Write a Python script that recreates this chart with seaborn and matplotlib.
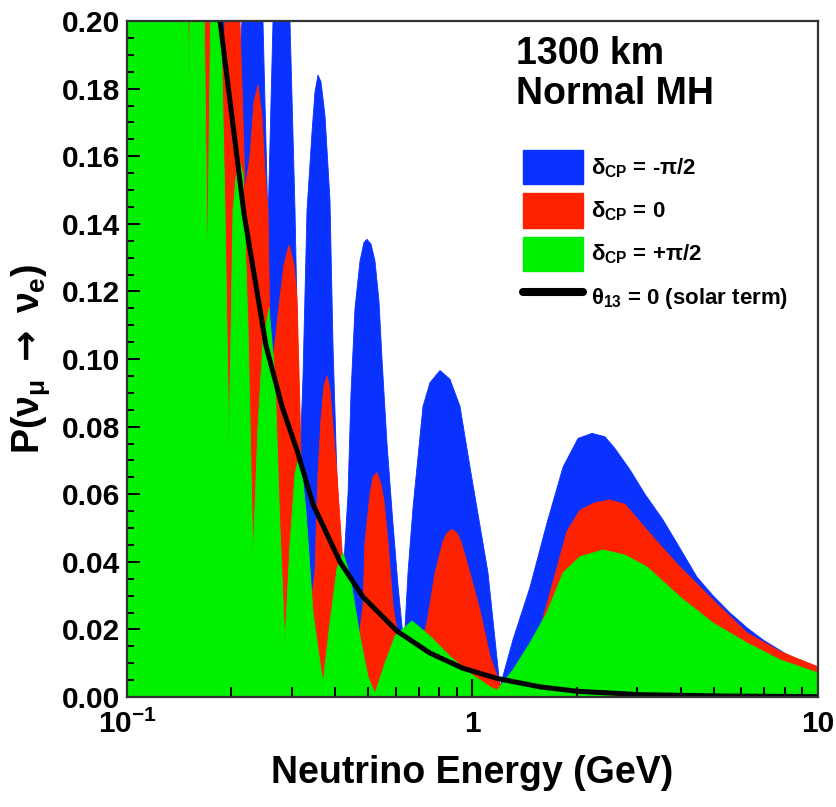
import matplotlib
matplotlib.use("Agg")
import matplotlib.pyplot as plt
import numpy as np
import pandas as pd
import seaborn as sns
from matplotlib.patches import Patch
from matplotlib.lines import Line2D
from matplotlib.ticker import FixedLocator, FixedFormatter, MultipleLocator, NullFormatter

# ---------------- data ----------------
# delta_CP = -pi/2 (blue)
energy_blue = [0.100, 0.1166, 0.1332, 0.1472, 0.1627, 0.1762, 0.1934, 0.2068, 0.2152, 0.2300,
               0.2475, 0.2559, 0.2646, 0.2809, 0.2963, 0.3064, 0.3168, 0.3232, 0.3319, 0.3431,
               0.3500, 0.3571, 0.3643, 0.3742, 0.3868, 0.3947, 0.4080, 0.4219, 0.4362, 0.4450,
               0.4570, 0.4725, 0.4852, 0.4950, 0.5084, 0.5221, 0.5363, 0.5471, 0.5656, 0.5848,
               0.6086, 0.6335, 0.6506, 0.6727, 0.7190, 0.7533, 0.8052, 0.8607, 0.9200, 0.9835,
               1.030, 1.109, 1.162, 1.201, 1.310, 1.467, 1.643, 1.828, 2.020, 2.218,
               2.418, 2.585, 2.857, 3.157, 3.560, 3.986, 4.464, 4.967, 5.563, 6.231,
               6.933, 8.296, 10.0]
prob_blue = [0.30, 0.30, 0.35, 0.25, 0.30, 0.20, 0.35, 0.17, 0.20, 0.27,
             0.20, 0.14, 0.20, 0.235, 0.20, 0.144, 0.070, 0.095, 0.144, 0.167,
             0.179, 0.184, 0.182, 0.172, 0.147, 0.104, 0.055, 0.035, 0.060, 0.090,
             0.115, 0.129, 0.1345, 0.1354, 0.134, 0.129, 0.117, 0.100, 0.075, 0.055,
             0.033, 0.015, 0.0367, 0.056, 0.086, 0.093, 0.0966, 0.094, 0.086, 0.068,
             0.056, 0.0367, 0.017, 0.003, 0.017, 0.0325, 0.0515, 0.068, 0.0765, 0.078,
             0.077, 0.0735, 0.0672, 0.060, 0.0524, 0.044, 0.0355, 0.030, 0.0249, 0.0205,
             0.0169, 0.012, 0.0089]

# delta_CP = 0 (red)
energy_red = [0.100, 0.1166, 0.1288, 0.1377, 0.1482, 0.1512, 0.1552, 0.1616, 0.1716, 0.1786,
              0.1859, 0.1922, 0.2013, 0.2124, 0.2196, 0.2270, 0.2331, 0.2394, 0.2458, 0.2509,
              0.2559, 0.2611, 0.2646, 0.2772, 0.2848, 0.2944, 0.3043, 0.3105, 0.3168, 0.3232,
              0.3341, 0.3500, 0.3571, 0.3643, 0.3717, 0.3792, 0.3868, 0.3947, 0.4053, 0.4275,
              0.4479, 0.4725, 0.4820, 0.4885, 0.5050, 0.5153, 0.5291, 0.5434, 0.5544, 0.5694,
              0.5887, 0.6377, 0.7047, 0.7384, 0.7788, 0.8215, 0.8437, 0.8723, 0.9020, 0.9261,
              0.9835, 1.051, 1.124, 1.242, 1.372, 1.568, 1.710, 1.877, 2.047, 2.263,
              2.500, 2.763, 3.199, 3.560, 3.986, 4.967, 6.231, 7.763, 10.0]
prob_red = [0.30, 0.40, 0.25, 0.34, 0.26, 0.22, 0.24, 0.17, 0.30, 0.22,
            0.17, 0.20, 0.27, 0.20, 0.15, 0.16, 0.176, 0.181, 0.172, 0.155,
            0.144, 0.090, 0.100, 0.118, 0.128, 0.1337, 0.128, 0.118, 0.085, 0.040,
            0.020, 0.037, 0.066, 0.082, 0.092, 0.095, 0.091, 0.080, 0.066, 0.030,
            0.012, 0.020, 0.027, 0.046, 0.060, 0.065, 0.0664, 0.063, 0.058, 0.046,
            0.027, 0.005, 0.015, 0.022, 0.0367, 0.046, 0.0485, 0.0496, 0.0485, 0.046,
            0.0367, 0.0257, 0.012, 0.000, 0.008, 0.020, 0.034, 0.049, 0.0553, 0.0575,
            0.0583, 0.057, 0.0494, 0.044, 0.0385, 0.0287, 0.019, 0.0135, 0.0089]

# delta_CP = +pi/2 (green)
energy_green = [0.100, 0.109, 0.1166, 0.1246, 0.1332, 0.1405, 0.1482, 0.1512, 0.1542, 0.1605,
                0.1671, 0.1710, 0.1750, 0.1810, 0.1871, 0.1922, 0.1974, 0.2027, 0.2095, 0.2166,
                0.2240, 0.2316, 0.2394, 0.2475, 0.2576, 0.2681, 0.2772, 0.2866, 0.2963, 0.3064,
                0.3168, 0.3297, 0.3454, 0.3692, 0.3868, 0.4053, 0.4219, 0.4420, 0.4725, 0.4983,
                0.5221, 0.5581, 0.5966, 0.6682, 0.7533, 0.8607, 0.9835, 1.124, 1.177, 1.310,
                1.467, 1.643, 1.828, 2.047, 2.386, 2.763, 3.199, 3.986, 4.967, 6.231,
                7.763, 10.0]
prob_green = [0.30, 0.34, 0.26, 0.36, 0.24, 0.32, 0.24, 0.182, 0.24, 0.28,
              0.21, 0.125, 0.21, 0.235, 0.20, 0.144, 0.074, 0.144, 0.160, 0.155,
              0.110, 0.041, 0.080, 0.105, 0.115, 0.095, 0.050, 0.016, 0.045, 0.066,
              0.0726, 0.055, 0.025, 0.004, 0.022, 0.038, 0.0427, 0.036, 0.018, 0.006,
              0.001, 0.010, 0.018, 0.0225, 0.018, 0.012, 0.007, 0.003, 0.002, 0.008,
              0.016, 0.025, 0.0367, 0.0415, 0.0435, 0.042, 0.0385, 0.0296, 0.0219, 0.016,
              0.011, 0.0071]

# theta13 = 0 (solar term, black)
energy_solar = [0.1739, 0.1859, 0.2181, 0.2525, 0.2809, 0.3105, 0.3454, 0.4135, 0.4820, 0.6046,
                0.7533, 0.9385, 1.177, 1.568, 2.007, 3.054, 5.204, 10.0]
prob_solar = [0.229, 0.200, 0.143, 0.104, 0.086, 0.073, 0.057, 0.040, 0.0296, 0.0195,
              0.0130, 0.0085, 0.0055, 0.0030, 0.0017, 0.0007, 0.0003, 0.0001]

series_labels = [r"$\delta_{CP}$ = -$\pi$/2", r"$\delta_{CP}$ = 0", r"$\delta_{CP}$ = +$\pi$/2",
                 r"$\theta_{13}$ = 0 (solar term)"]
annotation_lines = ["1300 km", "Normal MH"]
x_tick_values = [0.1, 1, 10]
x_tick_labels = [r"$10^{-1}$", "1", "10"]
y_tick_values = [0.00, 0.02, 0.04, 0.06, 0.08, 0.10, 0.12, 0.14, 0.16, 0.18, 0.20]

BLUE = "#0a32ff"
RED = "#ff2200"
GREEN = "#00f000"

# ---------------- style ----------------
sns.set_theme(style="white")
plt.rcParams["font.family"] = ["Liberation Sans", "DejaVu Sans"]
plt.rcParams["font.weight"] = "bold"
plt.rcParams["mathtext.fontset"] = "custom"
plt.rcParams["mathtext.rm"] = "Liberation Sans:bold"
plt.rcParams["mathtext.it"] = "Liberation Sans:bold"
plt.rcParams["mathtext.bf"] = "Liberation Sans:bold"
plt.rcParams["mathtext.sf"] = "DejaVu Sans"
plt.rcParams["axes.axisbelow"] = False
for key in ["text.color", "axes.labelcolor", "xtick.color", "ytick.color"]:
    plt.rcParams[key] = "black"

fig = plt.figure(figsize=(8.37, 8.07), dpi=100)
ax = fig.add_axes([127 / 837, 1 - 697 / 807, 691 / 837, 676 / 807])
ax.set_xscale("log")
ax.set_axisbelow(False)

for e, p, c in [(energy_blue, prob_blue, BLUE), (energy_red, prob_red, RED),
                (energy_green, prob_green, GREEN)]:
    ax.fill_between(e, 0, p, color=c, lw=0.6, edgecolor=c, zorder=1)

solar_df = pd.DataFrame({"energy": energy_solar, "prob": prob_solar})
sns.lineplot(data=solar_df, x="energy", y="prob", color="black", lw=3.6, ax=ax,
             legend=False, zorder=2)

ax.set_xlim(0.1, 10)
ax.set_ylim(0, 0.2)

ax.xaxis.set_major_locator(FixedLocator(x_tick_values))
ax.xaxis.set_major_formatter(FixedFormatter(x_tick_labels))
minor_x = [m * d for d in (0.1, 1) for m in range(2, 10)]
ax.xaxis.set_minor_locator(FixedLocator(minor_x))
ax.xaxis.set_minor_formatter(NullFormatter())
ax.yaxis.set_major_locator(FixedLocator(y_tick_values))
ax.yaxis.set_major_formatter(FixedFormatter([f"{v:.2f}" for v in y_tick_values]))
ax.yaxis.set_minor_locator(MultipleLocator(0.005))

ax.tick_params(axis="both", which="both", direction="in", bottom=True, left=True,
               top=False, right=False, width=1.4, colors="black", labelsize=21.5)
ax.tick_params(axis="x", which="major", length=13, pad=9)
ax.tick_params(axis="x", which="minor", length=7)
ax.tick_params(axis="y", which="major", length=9, pad=5)
ax.tick_params(axis="y", which="minor", length=5)
for lab in ax.get_xticklabels() + ax.get_yticklabels():
    lab.set_fontweight("bold")

for s in ax.spines.values():
    s.set_visible(True)
    s.set_color("#333333")
    s.set_linewidth(1.6)
    s.set_zorder(3)

ax.set_xlabel("Neutrino Energy (GeV)", fontsize=27, fontweight="bold", labelpad=12)
ax.set_ylabel(r"P($\nu_{\mu}$ $\mathsf{\rightarrow}$ $\nu_{e}$)", fontsize=27,
              fontweight="bold", labelpad=7)

ax.text(0.563, 0.936, annotation_lines[0], transform=ax.transAxes, fontsize=27,
        fontweight="bold", va="baseline", ha="left")
ax.text(0.563, 0.877, annotation_lines[1], transform=ax.transAxes, fontsize=27,
        fontweight="bold", va="baseline", ha="left")

handles = [Patch(facecolor=BLUE, edgecolor=BLUE), Patch(facecolor=RED, edgecolor=RED),
           Patch(facecolor=GREEN, edgecolor=GREEN), Line2D([], [], color="black", lw=5.8)]
ax.legend(handles, series_labels, loc="upper left", bbox_to_anchor=(0.573, 0.809),
          frameon=False, fontsize=16, handlelength=2.7, handleheight=2.0,
          labelspacing=0.4, handletextpad=0.36, borderpad=0, borderaxespad=0)

fig.savefig("out.png", dpi=100)
